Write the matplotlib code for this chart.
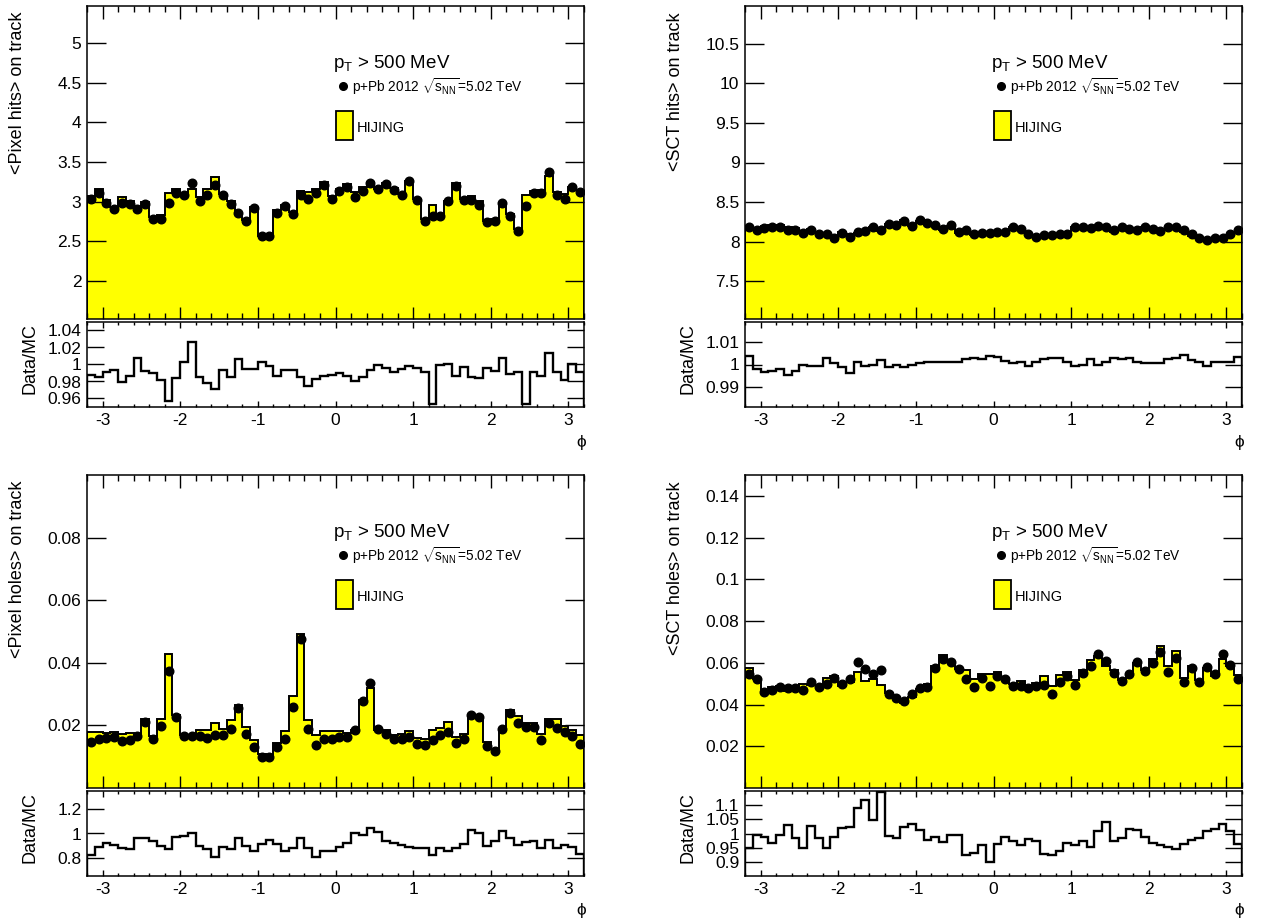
import numpy as np
import matplotlib
matplotlib.use("Agg")
import matplotlib.pyplot as plt
from matplotlib.ticker import MultipleLocator, FixedLocator, FuncFormatter
from matplotlib.patches import Rectangle

plt.rcParams['font.family'] = ['Liberation Sans', 'DejaVu Sans']
plt.rcParams['mathtext.fontset'] = 'custom'
plt.rcParams['mathtext.rm'] = 'Liberation Sans'
plt.rcParams['mathtext.it'] = 'Liberation Sans'
plt.rcParams['mathtext.sf'] = 'Liberation Sans'
plt.rcParams['mathtext.default'] = 'regular'

# ---------------- data (64 bins in phi from -3.2 to 3.2) ----------------
phi_edges = np.linspace(-3.2, 3.2, 65)

pixel_hits_data = [3.04, 3.11, 2.99, 2.91, 2.99, 2.97, 2.91, 2.97, 2.78, 2.78,
                   2.98, 3.11, 3.08, 3.24, 3.01, 3.09, 3.21, 3.08, 2.97, 2.86,
                   2.76, 2.92, 2.57, 2.57, 2.86, 2.94, 2.85, 3.09, 3.04, 3.11,
                   3.21, 3.03, 3.13, 3.18, 3.06, 3.14, 3.23, 3.16, 3.22, 3.15,
                   3.08, 3.26, 3.02, 2.76, 2.82, 2.82, 3.01, 3.20, 3.02, 3.02,
                   2.96, 2.74, 2.76, 2.99, 2.82, 2.63, 2.94, 3.11, 3.11, 3.37,
                   3.09, 3.04, 3.19, 3.12]
pixel_hits_ratio = [0.988, 0.985, 0.991, 0.994, 0.979, 0.987, 1.008, 0.992, 0.990, 0.982,
                    0.957, 0.984, 1.003, 1.027, 0.985, 0.978, 0.971, 0.994, 0.985, 1.007,
                    0.995, 0.995, 1.003, 0.998, 0.987, 0.993, 0.994, 0.985, 0.975, 0.983,
                    0.987, 0.988, 0.990, 0.987, 0.981, 0.985, 0.994, 0.999, 0.996, 0.991,
                    0.995, 0.998, 0.996, 0.991, 0.953, 0.999, 1.000, 0.987, 0.997, 0.985,
                    0.984, 0.996, 0.992, 1.008, 0.989, 0.991, 0.954, 0.991, 0.987, 1.014,
                    0.991, 0.982, 1.000, 0.991]

sct_hits_data = [8.18, 8.14, 8.17, 8.18, 8.19, 8.15, 8.15, 8.11, 8.15, 8.10,
                 8.09, 8.05, 8.11, 8.06, 8.12, 8.13, 8.18, 8.15, 8.22, 8.21,
                 8.26, 8.20, 8.27, 8.24, 8.21, 8.16, 8.21, 8.12, 8.15, 8.10,
                 8.11, 8.11, 8.12, 8.12, 8.19, 8.16, 8.09, 8.06, 8.08, 8.08,
                 8.10, 8.09, 8.18, 8.18, 8.17, 8.20, 8.18, 8.14, 8.18, 8.16,
                 8.14, 8.19, 8.16, 8.13, 8.18, 8.19, 8.15, 8.09, 8.05, 8.02,
                 8.04, 8.04, 8.09, 8.15]
sct_hits_ratio = [1.0038, 0.9980, 0.9967, 0.9970, 0.9980, 0.9955, 0.9970, 1.0000, 0.9993, 0.9995,
                  1.0030, 1.0005, 0.9990, 0.9960, 1.0010, 0.9995, 1.0000, 1.0020, 0.9990, 1.0000,
                  0.9990, 1.0000, 1.0005, 1.0010, 1.0010, 1.0010, 1.0010, 1.0010, 1.0023, 1.0028,
                  1.0023, 1.0038, 1.0032, 1.0015, 1.0008, 1.0009, 0.9995, 1.0009, 1.0023, 1.0028,
                  1.0027, 1.0012, 0.9995, 1.0000, 1.0023, 1.0000, 1.0010, 1.0028, 1.0023, 1.0027,
                  1.0012, 1.0008, 1.0005, 1.0008, 1.0025, 1.0031, 1.0043, 1.0020, 1.0010, 0.9995,
                  1.0010, 1.0010, 1.0012, 1.0035]

pixel_holes_data = [0.0147, 0.0158, 0.0161, 0.0163, 0.0151, 0.0152, 0.0167, 0.0212, 0.0156, 0.0198,
                    0.0373, 0.0228, 0.0165, 0.0166, 0.0166, 0.0161, 0.0168, 0.0169, 0.0190, 0.0254,
                    0.0174, 0.0130, 0.0099, 0.0099, 0.0130, 0.0156, 0.0260, 0.0475, 0.0190, 0.0137,
                    0.0155, 0.0157, 0.0162, 0.0163, 0.0185, 0.0278, 0.0335, 0.0188, 0.0174, 0.0156,
                    0.0157, 0.0163, 0.0140, 0.0138, 0.0153, 0.0169, 0.0180, 0.0144, 0.0156, 0.0233,
                    0.0226, 0.0133, 0.0118, 0.0190, 0.0239, 0.0209, 0.0194, 0.0194, 0.0153, 0.0209,
                    0.0193, 0.0180, 0.0166, 0.0142]
pixel_holes_ratio = [0.820, 0.890, 0.920, 0.905, 0.880, 0.870, 0.965, 0.965, 0.940, 0.900,
                     0.870, 0.975, 0.980, 1.005, 0.895, 0.870, 0.810, 0.890, 0.870, 0.960,
                     0.895, 0.855, 0.910, 0.950, 0.910, 0.855, 0.880, 0.965, 0.880, 0.810,
                     0.855, 0.855, 0.890, 0.925, 1.005, 0.990, 1.045, 1.015, 0.940, 0.920,
                     0.905, 0.890, 0.880, 0.880, 0.820, 0.880, 0.855, 0.880, 0.910, 1.030,
                     1.005, 0.900, 0.940, 1.020, 0.965, 0.905, 0.930, 0.940, 0.880, 0.950,
                     0.880, 0.905, 0.890, 0.835]

sct_holes_data = [0.0544, 0.0520, 0.0461, 0.0469, 0.0486, 0.0477, 0.0477, 0.0472, 0.0507, 0.0486,
                  0.0499, 0.0528, 0.0499, 0.0520, 0.0603, 0.0571, 0.0544, 0.0565, 0.0451, 0.0429,
                  0.0419, 0.0451, 0.0480, 0.0486, 0.0576, 0.0619, 0.0603, 0.0568, 0.0523, 0.0486,
                  0.0525, 0.0491, 0.0536, 0.0520, 0.0488, 0.0491, 0.0480, 0.0488, 0.0496, 0.0451,
                  0.0509, 0.0539, 0.0496, 0.0552, 0.0587, 0.0640, 0.0608, 0.0552, 0.0512, 0.0547,
                  0.0605, 0.0560, 0.0597, 0.0653, 0.0557, 0.0624, 0.0509, 0.0573, 0.0509, 0.0581,
                  0.0544, 0.0640, 0.0589, 0.0523]
sct_holes_ratio = [0.949, 0.994, 0.988, 0.967, 0.994, 1.029, 0.985, 0.949, 1.027, 0.985,
                   0.949, 0.988, 1.020, 1.024, 1.087, 1.116, 1.046, 1.143, 0.991, 0.985,
                   1.024, 1.032, 1.012, 0.979, 0.987, 0.969, 0.996, 0.996, 0.924, 0.934,
                   0.961, 0.901, 0.965, 0.988, 0.975, 0.961, 0.982, 0.973, 0.928, 0.926,
                   0.940, 0.967, 0.961, 0.973, 0.955, 1.008, 1.040, 0.973, 0.985, 1.014,
                   1.011, 0.987, 0.967, 0.959, 0.955, 0.947, 0.964, 0.979, 0.985, 1.008,
                   1.016, 1.034, 1.008, 0.964]

x_ticks = [-3, -2, -1, 0, 1, 2, 3]

panels = [
    dict(data=pixel_hits_data, ratio=pixel_hits_ratio, ylabel="<Pixel hits> on track",
         ylim=(1.52, 5.47), yticks=[2, 2.5, 3, 3.5, 4, 4.5, 5],
         rlim=(0.95, 1.05), rticks=[0.96, 0.98, 1.0, 1.02, 1.04], x0=87, y0=6),
    dict(data=sct_hits_data, ratio=sct_hits_ratio, ylabel="<SCT hits> on track",
         ylim=(7.02, 10.98), yticks=[7.5, 8, 8.5, 9, 9.5, 10, 10.5],
         rlim=(0.981, 1.019), rticks=[0.99, 1.0, 1.01], x0=745, y0=6),
    dict(data=pixel_holes_data, ratio=pixel_holes_ratio, ylabel="<Pixel holes> on track",
         ylim=(0.0, 0.1), yticks=[0.02, 0.04, 0.06, 0.08],
         rlim=(0.65, 1.35), rticks=[0.8, 1.0, 1.2], x0=87, y0=475),
    dict(data=sct_holes_data, ratio=sct_holes_ratio, ylabel="<SCT holes> on track",
         ylim=(0.0, 0.15), yticks=[0.02, 0.04, 0.06, 0.08, 0.1, 0.12, 0.14],
         rlim=(0.853, 1.147), rticks=[0.9, 0.95, 1.0, 1.05, 1.1], x0=745, y0=475),
]

W, H = 1263, 919
fig = plt.figure(figsize=(W / 100, H / 100), dpi=100)


def px_axes(x0, y0, x1, y1):
    return fig.add_axes([x0 / W, 1 - y1 / H, (x1 - x0) / W, (y1 - y0) / H])


def ftext(x, y, s, **kw):
    return fig.text(x / W, 1 - y / H, s, **kw)


fmt = FuncFormatter(lambda v, p: "%g" % v)
PW, MH, RH, GAP = 497, 313, 85, 3
FS = 12.5
LFS = 13

for p in panels:
    x0, y0 = p["x0"], p["y0"]
    centers = 0.5 * (phi_edges[:-1] + phi_edges[1:])
    data = np.array(p["data"])
    ratio = np.array(p["ratio"])
    mc = data / ratio

    ax = px_axes(x0, y0, x0 + PW, y0 + MH)
    ax.stairs(mc, phi_edges, fill=True, color="#ffff00", zorder=1)
    ax.stairs(mc, phi_edges, color="black", lw=1.4, zorder=2)
    ax.plot(centers, data, "o", color="black", ms=6.2, zorder=3)
    ax.set_xlim(-3.2, 3.2)
    ax.set_ylim(*p["ylim"])
    ax.yaxis.set_major_locator(FixedLocator(p["yticks"]))
    ax.yaxis.set_major_formatter(fmt)
    ax.xaxis.set_major_locator(MultipleLocator(1))
    ax.xaxis.set_minor_locator(MultipleLocator(0.2))
    ax.tick_params(axis="both", which="both", direction="in", top=True, right=True,
                   labelsize=FS, width=1)
    ax.tick_params(axis="x", which="major", length=9, labelbottom=False)
    ax.tick_params(axis="x", which="minor", length=4.5)
    ax.tick_params(axis="y", which="major", length=14, pad=4)
    for s in ax.spines.values():
        s.set_linewidth(1.1)

    # ratio panel
    ry0 = y0 + MH + GAP
    rx = px_axes(x0, ry0, x0 + PW, ry0 + RH)
    rx.stairs(ratio, phi_edges, color="black", lw=1.7)
    rx.set_xlim(-3.2, 3.2)
    rx.set_ylim(*p["rlim"])
    rx.yaxis.set_major_locator(FixedLocator(p["rticks"]))
    rx.yaxis.set_major_formatter(fmt)
    rx.xaxis.set_major_locator(FixedLocator(x_ticks))
    rx.xaxis.set_major_formatter(fmt)
    rx.xaxis.set_minor_locator(MultipleLocator(0.2))
    rx.tick_params(axis="both", which="both", direction="in", top=True, right=True,
                   labelsize=FS, width=1)
    rx.tick_params(axis="x", which="major", length=4, pad=4)
    rx.tick_params(axis="x", which="minor", length=2)
    rx.tick_params(axis="y", which="major", length=12, pad=4)
    for s in rx.spines.values():
        s.set_linewidth(1.1)

    # axis titles
    ftext(x0 - 69, y0 + 6, p["ylabel"], rotation=90, ha="center", va="top", fontsize=LFS)
    ftext(x0 - 57, ry0 + 1, "Data/MC", rotation=90, ha="center", va="top", fontsize=LFS)
    ftext(x0 + PW - 3, ry0 + RH + 35, "\u03d5", ha="center", va="center", fontsize=FS)

    # legend / annotation
    ftext(x0 + 246, y0 + 62, r"$p_{T}$ > 500 MeV", ha="left", va="baseline", fontsize=13.5)
    ax.plot([(x0 + 256) / W], [1 - (y0 + 80) / H], "o", color="black", ms=5.5,
            transform=fig.transFigure, clip_on=False)
    ftext(x0 + 265, y0 + 86, r"p+Pb 2012 $\sqrt{s_{NN}}$=5.02 TeV", ha="left",
          va="baseline", fontsize=9.8)
    fig.patches.append(Rectangle(((x0 + 249) / W, 1 - (y0 + 134) / H), 17 / W, 29 / H,
                                 transform=fig.transFigure, facecolor="#ffff00",
                                 edgecolor="black", lw=1.3))
    ftext(x0 + 270, y0 + 122, "HIJING", ha="left", va="center", fontsize=10.5)

fig.savefig("out.png", dpi=100)
